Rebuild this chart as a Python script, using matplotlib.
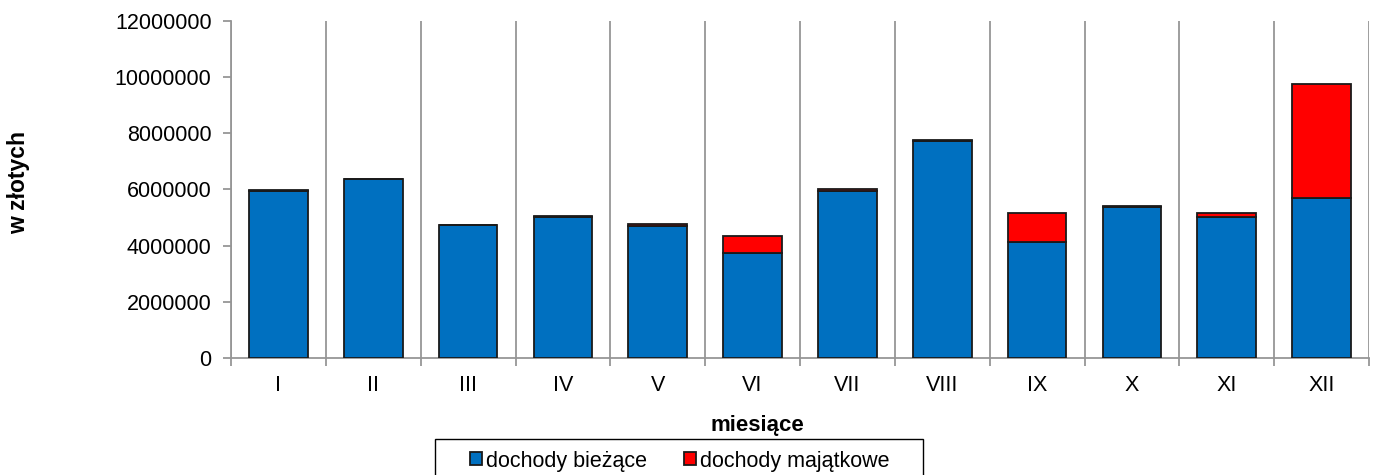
import matplotlib.pyplot as plt
import matplotlib.patches as mpatches
import numpy as np

plt.rcParams['font.family'] = ['Liberation Sans', 'DejaVu Sans']

months = ['I', 'II', 'III', 'IV', 'V', 'VI', 'VII', 'VIII', 'IX', 'X', 'XI', 'XII']
biezace = [5950000, 6370000, 4720000, 5020000, 4690000, 3750000,
           5960000, 7740000, 4120000, 5390000, 5010000, 5700000]
majatkowe = [30000, 20000, 20000, 50000, 90000, 580000,
             70000, 20000, 1030000, 30000, 140000, 4040000]

W, H = 1375, 475
fig = plt.figure(figsize=(W / 100, H / 100), dpi=100)
ax = fig.add_axes([231 / W, 1 - 358 / H, (1369 - 231) / W, (358 - 21) / H])

x = np.arange(len(months))
grey = '#969696'
fs = 15.5

ax.bar(x, biezace, width=0.62, color='#0070C0', edgecolor='#1a1a1a', linewidth=1.3,
       label='dochody bieżące', zorder=3)
ax.bar(x, majatkowe, width=0.62, bottom=biezace, color='#FF0000', edgecolor='#1a1a1a',
       linewidth=1.3, label='dochody majątkowe', zorder=3)

ax.set_xlim(-0.5, len(months) - 0.5)
ax.set_ylim(0, 12000000)
ax.set_yticks(np.arange(0, 12000001, 2000000))
ax.yaxis.set_major_formatter(plt.FuncFormatter(lambda v, p: '%d' % v))

ax.set_xticks(x)
ax.set_xticklabels(months)
ax.set_xticks(np.arange(-0.5, len(months)), minor=True)
ax.tick_params(axis='x', which='major', length=0, pad=12, labelsize=fs)
ax.tick_params(axis='x', which='minor', length=6, color=grey, width=1.3)
ax.tick_params(axis='y', length=6, color=grey, width=1.3, labelsize=fs, pad=8)
ax.grid(axis='x', which='minor', color=grey, linewidth=1.3, zorder=0)

for s in ['top', 'right']:
    ax.spines[s].set_visible(False)
for s in ['left', 'bottom']:
    ax.spines[s].set_color(grey)
    ax.spines[s].set_linewidth(1.3)

fig.text(757 / W, 1 - 425 / H, 'miesiące', fontsize=16, fontweight='bold',
         ha='center', va='center')
fig.text(19 / W, 1 - 183 / H, 'w złotych', rotation=90, fontsize=16.5, fontweight='bold',
         va='center', ha='center')

# legend frame, runs off the bottom edge like in the original
fig.patches.append(mpatches.Rectangle((435 / W, -0.05), (923 - 435) / W, 0.05 + (475 - 439) / H,
                                      transform=fig.transFigure, fill=False,
                                      edgecolor='black', linewidth=1.0))
fig.legend(*ax.get_legend_handles_labels(), loc='center left',
           bbox_to_anchor=(470 / W, 1 - 461 / H), ncol=2, frameon=False,
           fontsize=15.5, handlelength=0.55, handleheight=0.55, handletextpad=0.2,
           columnspacing=1.7, borderpad=0, borderaxespad=0)

fig.savefig('out.png', dpi=100)
